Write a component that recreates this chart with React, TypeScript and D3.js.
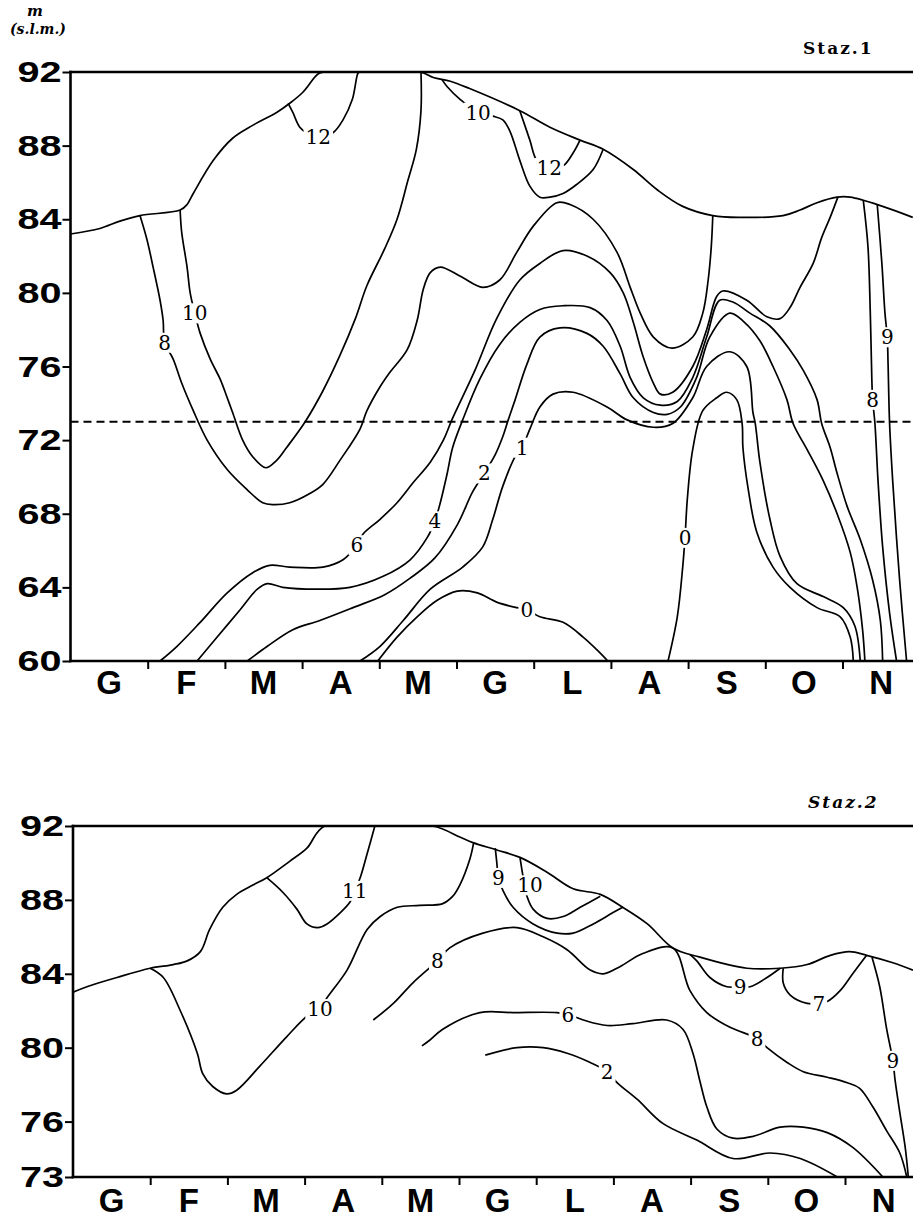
import React, { useEffect, useRef } from 'react';
import * as d3 from 'd3';

type Pt = [number, number];
type Label = { t: string; x: number; y: number };

// month axis: G F M A M G L A S O N (Jan..Nov), x in months from the start of January
const MONTHS = ['G', 'F', 'M', 'A', 'M', 'G', 'L', 'A', 'S', 'O', 'N'];
const TICKS_1 = [60, 64, 68, 72, 76, 80, 84, 88, 92];
const TICKS_2 = [73, 76, 80, 84, 88, 92];
const DASHED_LEVEL = 73;

//----- Staz.1 : [month, m s.l.m.] -------------------------------------------
const surface1: Pt[] = [[0, 83.2], [0.38, 83.5], [0.64, 83.9], [0.9, 84.2], [1.42, 84.5], [1.51, 84.8], [1.59, 85.4], [1.85, 87.2], [2.1, 88.4], [2.36, 89.1], [2.67, 89.8], [2.84, 90.3], [3.01, 90.9], [3.21, 91.9], [3.3, 92], [4.53, 92], [4.7, 91.7], [4.92, 91.5], [5.17, 91.1], [5.82, 89.9], [6.21, 89.0], [6.6, 88.3], [6.9, 87.8], [7.29, 86.7], [7.6, 85.6], [7.93, 84.7], [8.32, 84.2], [8.67, 84.1], [9.23, 84.2], [9.45, 84.5], [9.67, 84.9], [9.93, 85.2], [10.1, 85.2], [10.52, 84.7], [10.91, 84.1]];
const iso1_12a: Pt[] = [[2.82, 90.3], [2.88, 89.8], [2.97, 89.0], [3.06, 88.7], [3.21, 88.5], [3.4, 88.7], [3.53, 89.4], [3.65, 90.5], [3.72, 91.9], [3.74, 92]];
const iso1_12b: Pt[] = [[5.82, 89.9], [5.95, 88.3], [6.04, 87.2], [6.2, 86.8], [6.38, 86.9], [6.51, 87.6], [6.6, 88.3]];
const iso1_10a: Pt[] = [[1.42, 84.5], [1.44, 83.3], [1.51, 81.4], [1.55, 80.0], [1.61, 78.9], [1.68, 77.8], [1.81, 76.4], [1.94, 75.3], [2.03, 74.3], [2.1, 73.5], [2.23, 72.0], [2.36, 71.1], [2.53, 70.5], [2.67, 70.9], [2.8, 71.6], [3.04, 73.0], [3.26, 74.6], [3.49, 76.6], [3.69, 78.6], [3.84, 80.4], [4.07, 82.4], [4.23, 84.0], [4.37, 86.1], [4.48, 87.8], [4.54, 89.9], [4.54, 92]];
const iso1_10b: Pt[] = [[4.81, 91.6], [4.88, 91.2], [5.05, 90.5], [5.28, 89.8], [5.47, 89.6], [5.6, 89.4], [5.69, 88.8], [5.82, 87.2], [5.95, 85.8], [6.08, 85.2], [6.21, 85.2], [6.38, 85.4], [6.56, 85.9], [6.77, 86.7], [6.9, 87.8]];
const iso1_8a: Pt[] = [[0.9, 84.2], [0.99, 82.9], [1.07, 81.4], [1.16, 79.6], [1.2, 78.5], [1.22, 77.3], [1.33, 76.4], [1.44, 75.1], [1.59, 73.6], [1.77, 72.0], [2.03, 70.4], [2.29, 69.3], [2.49, 68.6], [2.62, 68.5], [2.84, 68.6], [3.1, 69.1], [3.27, 69.6], [3.49, 70.9], [3.75, 72.6], [3.84, 73.6], [4.01, 74.9], [4.14, 75.7], [4.36, 76.9], [4.49, 78.5], [4.57, 80.2], [4.66, 81.1], [4.79, 81.4], [5.05, 80.9], [5.34, 80.3], [5.56, 80.7], [5.78, 82.2], [5.99, 83.6], [6.3, 84.9], [6.47, 84.8], [6.77, 84.0], [7.08, 82.2], [7.25, 80.3], [7.38, 78.9], [7.55, 77.6], [7.79, 77.0], [8.06, 77.6], [8.19, 78.9], [8.26, 80.7], [8.3, 82.5], [8.32, 84.2]];
const iso1_8b: Pt[] = [[10.27, 85.0], [10.33, 82.5], [10.36, 78.9], [10.38, 75.3], [10.39, 74.2], [10.42, 72.9], [10.46, 69.8], [10.52, 66.2], [10.61, 62.6], [10.7, 60]];
const iso1_9: Pt[] = [[10.45, 84.8], [10.51, 81.6], [10.55, 78.9], [10.58, 77.6], [10.59, 76.2], [10.61, 72.9], [10.65, 69.8], [10.74, 64.4], [10.83, 60]];
const iso1_6: Pt[] = [[1.16, 60], [1.38, 60.8], [1.68, 62.1], [2.03, 63.7], [2.36, 64.8], [2.58, 65.2], [2.84, 65.1], [3.27, 65.1], [3.53, 65.5], [3.71, 66.3], [3.79, 66.9], [4.01, 67.7], [4.23, 68.6], [4.44, 69.7], [4.66, 70.8], [4.83, 72.0], [4.94, 73.1], [5.24, 75.8], [5.52, 78.6], [5.82, 80.7], [6.08, 81.6], [6.38, 82.3], [6.69, 82.0], [6.99, 81.1], [7.16, 80.0], [7.29, 78.4], [7.42, 76.5], [7.55, 75.1], [7.64, 74.5], [7.8, 74.6], [8.06, 76.0], [8.24, 78.0], [8.37, 79.8], [8.45, 80.1], [8.76, 79.6], [9.02, 78.7], [9.19, 78.6], [9.32, 79.2], [9.45, 80.3], [9.62, 81.6], [9.73, 83.0], [9.84, 84.1], [9.94, 85.2]];
const iso1_4: Pt[] = [[1.64, 60], [1.9, 61.3], [2.2, 62.8], [2.42, 63.9], [2.55, 64.2], [2.75, 64.0], [3.19, 63.9], [3.62, 64.0], [4.05, 64.6], [4.4, 65.5], [4.62, 66.7], [4.72, 67.6], [4.79, 68.6], [4.88, 70.2], [4.95, 71.6], [5.08, 73.1], [5.3, 75.3], [5.56, 77.2], [5.82, 78.4], [6.08, 79.1], [6.38, 79.3], [6.73, 79.2], [6.95, 78.5], [7.12, 77.1], [7.25, 75.4], [7.42, 74.3], [7.64, 73.9], [7.86, 74.1], [8.06, 75.4], [8.24, 77.6], [8.41, 79.6], [8.58, 79.5], [8.8, 78.9], [9.06, 78.2], [9.32, 76.9], [9.49, 75.8], [9.67, 74.2], [9.73, 72.9], [9.84, 71.6], [9.93, 70.2], [10.06, 68.4], [10.23, 66.6], [10.39, 64.4], [10.49, 62.2], [10.52, 60]];
const iso1_2: Pt[] = [[2.29, 60], [2.55, 60.8], [2.88, 61.7], [3.23, 62.2], [3.66, 62.9], [4.07, 63.6], [4.4, 64.5], [4.72, 65.6], [5.01, 67.4], [5.21, 69.2], [5.36, 70.2], [5.5, 71.2], [5.6, 72.2], [5.67, 73.1], [5.76, 74.2], [5.91, 76.1], [6.08, 77.6], [6.34, 78.1], [6.69, 77.8], [6.9, 77.1], [7.12, 75.6], [7.29, 74.3], [7.55, 73.5], [7.73, 73.4], [7.9, 73.8], [8.11, 75.4], [8.28, 77.6], [8.54, 78.9], [8.73, 78.4], [8.93, 77.4], [9.1, 76.0], [9.28, 74.2], [9.36, 72.9], [9.54, 71.5], [9.75, 69.8], [9.93, 68.0], [10.1, 65.9], [10.19, 64.0], [10.26, 61.7], [10.29, 60]];
const iso1_1: Pt[] = [[3.75, 60], [4.01, 60.8], [4.31, 62.2], [4.66, 63.9], [5.08, 65.1], [5.34, 66.2], [5.47, 67.7], [5.6, 69.5], [5.76, 71.1], [5.85, 71.6], [5.95, 72.6], [6.08, 73.8], [6.25, 74.5], [6.51, 74.6], [6.95, 73.8], [7.21, 73.1], [7.55, 72.7], [7.8, 72.9], [8.06, 74.3], [8.24, 76.0], [8.54, 76.8], [8.76, 76.0], [8.84, 73.5], [8.87, 72.9], [8.93, 70.8], [9.06, 67.7], [9.19, 65.7], [9.41, 64.2], [9.75, 63.5], [10.01, 62.9], [10.16, 61.9], [10.23, 60]];
const iso1_0a: Pt[] = [[3.98, 60], [4.23, 61.3], [4.49, 62.4], [4.75, 63.3], [5.01, 63.8], [5.27, 63.7], [5.52, 63.2], [5.78, 62.9], [5.91, 62.8], [6.08, 62.4], [6.38, 62.1], [6.64, 61.3], [6.82, 60.6], [6.96, 60]];
const iso1_0b: Pt[] = [[7.74, 60], [7.86, 62.4], [7.93, 65.1], [7.96, 66.7], [7.99, 68.8], [8.06, 71.5], [8.19, 73.6], [8.37, 74.3], [8.5, 74.6], [8.63, 74.2], [8.7, 72.9], [8.71, 71.6], [8.78, 69.3], [8.89, 67.0], [9.1, 65.1], [9.32, 64.0], [9.67, 62.9], [9.97, 62.4], [10.1, 61.3], [10.14, 60]];
const labels1: Label[] = [
    { t: '12', x: 3.21, y: 88.5 }, { t: '12', x: 6.2, y: 86.8 },
    { t: '10', x: 1.61, y: 78.9 }, { t: '10', x: 5.28, y: 89.8 },
    { t: '8', x: 1.22, y: 77.3 }, { t: '8', x: 10.39, y: 74.2 }, { t: '9', x: 10.58, y: 77.6 },
    { t: '6', x: 3.71, y: 66.3 }, { t: '4', x: 4.72, y: 67.6 }, { t: '2', x: 5.36, y: 70.2 },
    { t: '1', x: 5.85, y: 71.6 }, { t: '0', x: 5.91, y: 62.8 }, { t: '0', x: 7.96, y: 66.7 },
];

//----- Staz.2 : [month, m s.l.m.] -------------------------------------------
const surface2: Pt[] = [[0, 83.0], [0.18, 83.3], [0.57, 83.8], [1.0, 84.3], [1.3, 84.5], [1.48, 84.7], [1.65, 85.2], [1.77, 86.4], [1.94, 87.6], [2.12, 88.3], [2.33, 88.8], [2.51, 89.2], [2.81, 90.1], [3.03, 90.8], [3.26, 92], [4.66, 92], [5.01, 91.4], [5.18, 91.1], [5.49, 90.7], [5.79, 90.3], [6.14, 89.5], [6.48, 88.6], [6.83, 88.3], [7.12, 87.6], [7.44, 86.7], [7.77, 85.4], [8.12, 84.9], [8.73, 84.3], [9.16, 84.3], [9.51, 84.5], [9.81, 85.0], [10.06, 85.2], [10.28, 85.0], [10.62, 84.6], [10.88, 84.2]];
const iso2_11: Pt[] = [[2.51, 89.2], [2.72, 88.4], [2.9, 87.5], [3.03, 86.7], [3.17, 86.5], [3.29, 86.7], [3.46, 87.3], [3.59, 87.9], [3.65, 88.5], [3.72, 89.2], [3.81, 90.5], [3.91, 92]];
const iso2_10a: Pt[] = [[1.0, 84.3], [1.17, 83.8], [1.39, 82.0], [1.61, 79.7], [1.68, 78.6], [1.81, 77.9], [1.99, 77.5], [2.12, 77.7], [2.42, 79.0], [2.77, 80.6], [3.03, 81.7], [3.2, 82.1], [3.29, 82.7], [3.55, 84.2], [3.81, 86.4], [3.98, 87.1], [4.2, 87.6], [4.49, 87.7], [4.79, 87.8], [4.92, 88.2], [5.01, 88.8], [5.14, 90.2], [5.19, 91.1]];
const iso2_10b: Pt[] = [[5.79, 90.3], [5.82, 89.5], [5.85, 88.8], [5.88, 88.2], [5.96, 87.5], [6.14, 87.0], [6.35, 87.1], [6.57, 87.6], [6.83, 88.2]];
const iso2_9a: Pt[] = [[5.47, 90.8], [5.49, 90.0], [5.51, 89.2], [5.57, 88.5], [5.7, 87.6], [5.96, 86.7], [6.27, 86.2], [6.48, 86.2], [6.74, 86.7], [6.99, 87.3], [7.12, 87.6]];
const iso2_9b: Pt[] = [[7.99, 85.05], [8.08, 84.7], [8.25, 83.8], [8.47, 83.3], [8.64, 83.3], [8.77, 83.3], [8.99, 83.8], [9.16, 84.3]];
const iso2_9c: Pt[] = [[10.35, 84.9], [10.45, 83.3], [10.54, 81.0], [10.62, 79.3], [10.65, 78.2], [10.71, 76.5], [10.78, 74.6], [10.82, 73]];
const iso2_8: Pt[] = [[3.89, 81.5], [4.15, 82.4], [4.4, 83.5], [4.72, 84.7], [4.88, 85.4], [5.31, 86.2], [5.75, 86.5], [6.09, 86.0], [6.4, 85.3], [6.7, 84.2], [6.87, 84.0], [7.09, 84.4], [7.38, 85.1], [7.77, 85.4], [7.99, 83.1], [8.21, 81.9], [8.51, 81.1], [8.86, 80.5], [8.99, 80.0], [9.25, 79.2], [9.46, 78.7], [9.77, 78.4], [10.03, 78.1], [10.19, 77.8], [10.36, 76.8], [10.54, 75.5], [10.71, 74.3], [10.8, 73]];
const iso2_7: Pt[] = [[9.2, 84.3], [9.2, 83.5], [9.29, 82.85], [9.51, 82.4], [9.66, 82.4], [9.77, 82.5], [9.94, 83.1], [10.1, 84.0], [10.28, 85.0]];
const iso2_6: Pt[] = [[4.52, 80.1], [4.62, 80.4], [4.79, 81.0], [5.27, 81.9], [5.7, 81.9], [6.27, 81.9], [6.41, 81.8], [6.61, 81.5], [6.92, 81.2], [7.25, 81.3], [7.69, 81.5], [7.9, 81.0], [8.03, 79.7], [8.12, 78.2], [8.21, 76.8], [8.34, 75.6], [8.55, 75.1], [8.81, 75.2], [9.16, 75.7], [9.46, 75.7], [9.77, 75.4], [10.1, 74.6], [10.49, 73]];
const iso2_2: Pt[] = [[5.34, 79.6], [5.75, 80.0], [6.09, 80.0], [6.4, 79.7], [6.7, 79.2], [6.92, 78.7], [7.05, 78.1], [7.31, 77.2], [7.64, 75.9], [8.08, 75.0], [8.55, 74.0], [9.03, 74.3], [9.42, 74.0], [9.9, 73]];
const labels2: Label[] = [
    { t: '11', x: 3.65, y: 88.5 }, { t: '10', x: 3.2, y: 82.1 }, { t: '10', x: 5.92, y: 88.8 },
    { t: '9', x: 5.51, y: 89.2 }, { t: '9', x: 8.64, y: 83.3 }, { t: '9', x: 10.62, y: 79.3 },
    { t: '8', x: 4.72, y: 84.7 }, { t: '8', x: 8.86, y: 80.5 }, { t: '7', x: 9.66, y: 82.4 },
    { t: '6', x: 6.41, y: 81.8 }, { t: '2', x: 6.92, y: 78.7 },
];

const WIDTH = 913;
const HEIGHT = 1221;
const RIGHT = 913;
const MONTH_W = 77.2;
const SANS = '"Liberation Sans", Arial, sans-serif';
const SERIF = '"DejaVu Serif", "Liberation Serif", serif';

const PANELS = [
    {
        key: 's1', x0: 70.5, yTop: 72, yBottom: 661, domain: [60, 92], ticks: TICKS_1, monthDy: 33,
        lines: [surface1, iso1_12a, iso1_12b, iso1_10a, iso1_10b, iso1_8a, iso1_8b, iso1_9, iso1_6, iso1_4, iso1_2, iso1_1, iso1_0a, iso1_0b],
        labels: labels1, title: 'Staz.1', italic: false, titleX: 803, titleY: 54, dashed: DASHED_LEVEL,
    },
    {
        key: 's2', x0: 73, yTop: 826, yBottom: 1177, domain: [73, 92], ticks: TICKS_2, monthDy: 35,
        lines: [surface2, iso2_11, iso2_10a, iso2_10b, iso2_9a, iso2_9b, iso2_9c, iso2_8, iso2_7, iso2_6, iso2_2],
        labels: labels2, title: 'Staz.2', italic: true, titleX: 808, titleY: 808, dashed: null,
    },
];

const App = () => {
    const svgRef = useRef<SVGSVGElement>(null);

    useEffect(() => {
        const svg = d3.select(svgRef.current);
        svg.selectAll('*').remove();

        // unit label
        svg.append('text').attr('x', 35).attr('y', 16).attr('text-anchor', 'middle')
            .attr('font-family', SERIF).attr('font-style', 'italic').attr('font-weight', 'bold')
            .attr('font-size', 15).text('m');
        svg.append('text').attr('x', 10).attr('y', 34)
            .attr('font-family', SERIF).attr('font-style', 'italic').attr('font-weight', 'bold')
            .attr('font-size', 14).text('(s.l.m.)');

        PANELS.forEach(p => drawPanel(svg, p));

        function drawPanel(root: any, p: any) {
            const x = d3.scaleLinear().domain([0, 11]).range([p.x0, p.x0 + 11 * MONTH_W]);
            const y = d3.scaleLinear().domain(p.domain).range([p.yBottom, p.yTop]);
            const clipId = 'clip-' + p.key;

            root.append('defs').append('clipPath').attr('id', clipId)
                .append('rect').attr('x', p.x0).attr('y', p.yTop - 1)
                .attr('width', RIGHT - p.x0).attr('height', p.yBottom - p.yTop + 2);

            const g = root.append('g');
            const plot = g.append('g').attr('clip-path', `url(#${clipId})`);

            const line = d3.line<Pt>()
                .x(d => x(d[0]))
                .y(d => y(d[1]))
                .curve(d3.curveCatmullRom.alpha(0.5));

            plot.selectAll('path.iso').data(p.lines).join('path')
                .attr('class', 'iso')
                .attr('d', (d: Pt[]) => line(d))
                .attr('fill', 'none')
                .attr('stroke', '#000')
                .attr('stroke-width', 1.7)
                .attr('stroke-linejoin', 'round');

            if (p.dashed != null) {
                plot.append('line')
                    .attr('x1', p.x0).attr('x2', RIGHT)
                    .attr('y1', y(p.dashed)).attr('y2', y(p.dashed))
                    .attr('stroke', '#000').attr('stroke-width', 2)
                    .attr('stroke-dasharray', '8 5');
            }

            // isotherm labels: a white box behind each one cuts the line
            const labs = g.selectAll('g.lab').data(p.labels).join('g')
                .attr('class', 'lab')
                .attr('transform', (d: Label) => `translate(${x(d.x)},${y(d.y)})`);
            const bg = labs.append('rect').attr('fill', '#fff');
            labs.append('text')
                .attr('dy', '0.36em')
                .attr('text-anchor', 'middle')
                .attr('font-family', SERIF)
                .attr('font-size', 20)
                .attr('fill', '#000')
                .text((d: Label) => d.t);
            labs.each(function (this: SVGGElement) {
                const t = d3.select(this).select('text').node() as SVGTextElement;
                const b = t.getBBox();
                d3.select(this).select('rect')
                    .attr('x', b.x - 2).attr('y', b.y + 2)
                    .attr('width', b.width + 4).attr('height', b.height - 4);
            });

            // frame
            const frame = [
                [p.x0, p.yTop, RIGHT, p.yTop],
                [p.x0, p.yBottom, RIGHT, p.yBottom],
                [p.x0, p.yTop, p.x0, p.yBottom],
            ];
            g.selectAll('line.frame').data(frame).join('line')
                .attr('class', 'frame')
                .attr('x1', (d: number[]) => d[0]).attr('y1', (d: number[]) => d[1])
                .attr('x2', (d: number[]) => d[2]).attr('y2', (d: number[]) => d[3])
                .attr('stroke', '#000').attr('stroke-width', 2.6).attr('stroke-linecap', 'square');

            // y axis
            const ya = g.append('g')
                .attr('transform', `translate(${p.x0},0)`)
                .call(d3.axisLeft(y).tickValues(p.ticks).tickSize(8).tickSizeOuter(0).tickPadding(1).tickFormat(d3.format('d')));
            ya.select('.domain').remove();
            ya.selectAll('line').attr('stroke', '#000').attr('stroke-width', 2);
            ya.selectAll('text')
                .attr('font-family', SANS).attr('font-size', 30).attr('font-weight', 'bold')
                .attr('fill', '#000').attr('textLength', 44).attr('lengthAdjust', 'spacingAndGlyphs');

            // x axis ticks at month boundaries
            const xa = g.append('g')
                .attr('transform', `translate(0,${p.yBottom})`)
                .call(d3.axisBottom(x).tickValues(d3.range(1, 11)).tickSize(8).tickSizeOuter(0).tickFormat(() => ''));
            xa.select('.domain').remove();
            xa.selectAll('line').attr('stroke', '#000').attr('stroke-width', 2);

            g.selectAll('text.month').data(MONTHS).join('text')
                .attr('class', 'month')
                .attr('x', (d: string, i: number) => x(i + 0.5))
                .attr('y', p.yBottom + p.monthDy)
                .attr('text-anchor', 'middle')
                .attr('font-family', SANS).attr('font-size', 33).attr('font-weight', 'bold')
                .attr('fill', '#000')
                .text((d: string) => d);

            g.append('text')
                .attr('x', p.titleX).attr('y', p.titleY)
                .attr('font-family', SERIF).attr('font-weight', 'bold')
                .attr('font-style', p.italic ? 'italic' : 'normal')
                .attr('font-size', 17).attr('letter-spacing', 2)
                .text(p.title);
        }
    }, []);

    return (
        <svg ref={svgRef} width={WIDTH} height={HEIGHT}
            style={{ position: 'absolute', left: 0, top: 0, background: '#fff' }} />
    );
};

export default App;
